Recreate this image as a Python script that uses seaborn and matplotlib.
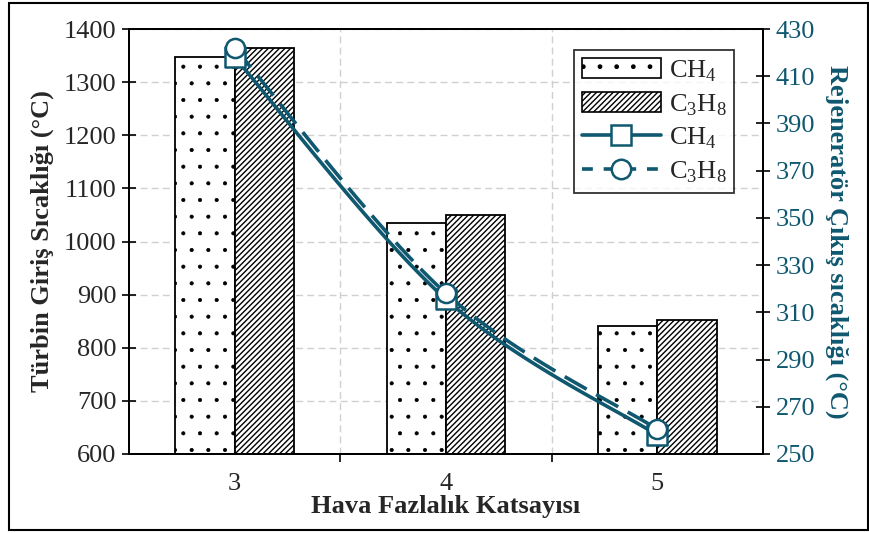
import numpy as np
import pandas as pd
import matplotlib
matplotlib.use("Agg")
import matplotlib.pyplot as plt
import seaborn as sns
from matplotlib.patches import Patch, Rectangle
from matplotlib.lines import Line2D
from matplotlib.ticker import FixedLocator

# ---- data ----
categories = ["3", "4", "5"]
tit_ch4 = [1347, 1035, 841]
tit_c3h8 = [1364, 1050, 852]
regen_ch4 = [418, 315.5, 258]
regen_c3h8 = [422, 318, 260.5]
left_ticks = [600, 700, 800, 900, 1000, 1100, 1200, 1300, 1400]
right_ticks = [250, 270, 290, 310, 330, 350, 370, 390, 410, 430]

teal = "#0F5870"

sns.set_theme(style="white")
plt.rcParams["font.family"] = ["Liberation Serif", "DejaVu Serif"]
plt.rcParams["mathtext.fontset"] = "custom"
plt.rcParams["mathtext.rm"] = "Liberation Serif"
plt.rcParams["hatch.linewidth"] = 1.0

fig = plt.figure(figsize=(8.69, 5.33), dpi=100)
ax = fig.add_axes([129/869, 1-454/533, (763-129)/869, (454-29)/533])

df = pd.DataFrame({
    "x": categories * 2,
    "val": tit_ch4 + tit_c3h8,
    "gas": ["CH4"] * 3 + ["C3H8"] * 3,
})
sns.barplot(data=df, x="x", y="val", hue="gas", ax=ax, width=0.56,
            palette=["white", "white"], edgecolor="black", linewidth=1.3,
            legend=False, dodge=True, saturation=1)


def style_hatch(p, h, lw):
    p.set_hatch(h)
    p.set_edgecolor("black")
    if hasattr(p, "set_hatch_linewidth"):
        p.set_hatch_linewidth(lw)


for i, bar in enumerate(ax.patches):
    if i < 3:
        style_hatch(bar, ".", 0.5)
    else:
        style_hatch(bar, "//////", 1.0)

ax.set_ylim(600, 1400)
ax.set_xlim(-0.5, 2.5)
ax.yaxis.set_major_locator(FixedLocator(left_ticks))
ax.xaxis.set_major_locator(FixedLocator([0.5, 1.5]))
ax.xaxis.set_minor_locator(FixedLocator([0, 1, 2]))
ax.set_xticklabels([], minor=False)
ax.set_xticklabels(categories, minor=True)
ax.tick_params(axis="x", which="major", direction="out", length=6, width=1.2, color="black", bottom=True)
ax.tick_params(axis="x", which="minor", length=0, labelsize=19, pad=14)
ax.tick_params(axis="y", direction="inout", length=10, width=1.2, color="black", left=True,
               labelsize=19, pad=4)
ax.grid(True, which="major", axis="both", linestyle=(0, (5, 3)), color="#d0d0d0", linewidth=1.0)
ax.set_axisbelow(True)
for s in ax.spines.values():
    s.set_color("black")
    s.set_linewidth(1.4)
ax.set_xlabel("Hava Fazlalık Katsayısı", fontsize=19, fontweight="bold", labelpad=0)
ax.set_ylabel("Türbin Giriş Sıcaklığı (°C)", fontsize=19, fontweight="bold", labelpad=7)

ax2 = ax.twinx()
ax2.set_ylim(250, 430)
ax2.yaxis.set_major_locator(FixedLocator(right_ticks))


def smooth(xs, ys, n=40):
    # Excel-style smoothed line rendering (Catmull-Rom Bezier) through the data points
    P = np.column_stack([xs, ys]).astype(float)
    Pe = np.vstack([P[0], P, P[-1]])
    out = []
    for i in range(1, len(Pe) - 2):
        p0, p1, p2, p3 = Pe[i-1], Pe[i], Pe[i+1], Pe[i+2]
        c1 = p1 + (p2 - p0) / 6
        c2 = p2 - (p3 - p1) / 6
        t = np.linspace(0, 1, n)[:, None]
        seg = (1-t)**3*p1 + 3*(1-t)**2*t*c1 + 3*(1-t)*t**2*c2 + t**3*p2
        out.append(seg)
    return np.vstack(out)

xpos = np.arange(len(categories))
c1 = smooth(xpos, regen_ch4)
c2 = smooth(xpos, regen_c3h8)
ax2.plot(c1[:, 0], c1[:, 1], color=teal, lw=2.6, solid_capstyle="round", zorder=3)
ax2.plot(c2[:, 0], c2[:, 1], color=teal, lw=2.6, ls=(0, (7, 3)), zorder=3)
sns.scatterplot(x=xpos, y=regen_ch4, ax=ax2, marker="s", s=190, facecolor="white",
                edgecolor=teal, linewidth=1.8, zorder=4, legend=False)
sns.scatterplot(x=xpos, y=regen_c3h8, ax=ax2, marker="o", s=190, facecolor="white",
                edgecolor=teal, linewidth=1.8, zorder=5, legend=False)
ax2.set_xlim(-0.5, 2.5)
ax2.set_ylabel("Rejeneratör Çıkış sıcaklığı (°C)", fontsize=19, fontweight="bold",
               color=teal, rotation=270, labelpad=24)
ax2.tick_params(axis="y", direction="inout", length=10, width=1.2, color="black",
                right=True, labelsize=19, labelcolor=teal, pad=4)
for s in ax2.spines.values():
    s.set_color("black")
    s.set_linewidth(1.4)
ax2.grid(False)

p1 = Patch(facecolor="white", edgecolor="black", linewidth=1.2)
style_hatch(p1, ".", 0.5)
p2 = Patch(facecolor="white", edgecolor="black", linewidth=1.2)
style_hatch(p2, "//////", 1.0)
handles = [
    p1, p2,
    Line2D([], [], color=teal, lw=2.6, marker="s", markersize=14, markerfacecolor="white",
           markeredgecolor=teal, markeredgewidth=1.8),
    Line2D([], [], color=teal, lw=2.6, ls=(0, (3, 3)), marker="o", markersize=14,
           markerfacecolor="white", markeredgecolor=teal, markeredgewidth=1.8),
]
labels = ["CH$_4$", "C$_3$H$_8$", "CH$_4$", "C$_3$H$_8$"]
leg = ax2.legend(handles, labels, loc="upper right", bbox_to_anchor=(0.955, 0.95),
                 fontsize=19, frameon=True, fancybox=False, edgecolor="black",
                 handlelength=3.0, handleheight=0.8, labelspacing=0.3, borderpad=0.3,
                 handletextpad=0.3, borderaxespad=0)
leg.get_frame().set_linewidth(1.3)

fig.patches.append(Rectangle((9/869, 3/533), 1-9/869-1/869, 1-6/533, transform=fig.transFigure,
                             fill=False, edgecolor="black", linewidth=1.5))

fig.savefig("out.png", dpi=100)
